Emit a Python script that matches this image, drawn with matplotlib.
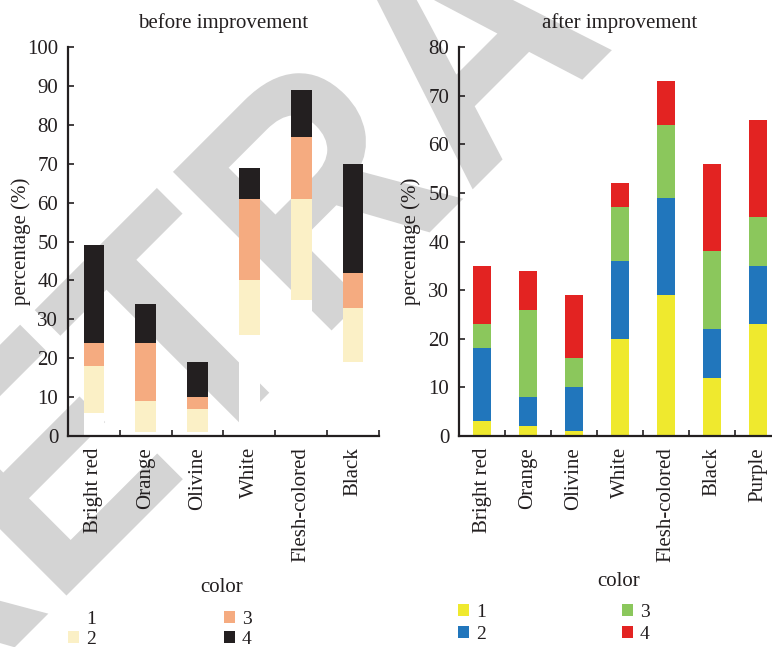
import numpy as np
import matplotlib
matplotlib.use("Agg")
import matplotlib.pyplot as plt
from matplotlib.textpath import TextPath
from matplotlib.patches import PathPatch
from matplotlib.font_manager import FontProperties
from matplotlib.transforms import Affine2D, IdentityTransform

plt.rcParams['font.family'] = ['Liberation Serif', 'DejaVu Serif']
plt.rcParams['text.color'] = '#231f20'
plt.rcParams['axes.labelcolor'] = '#231f20'
plt.rcParams['xtick.color'] = '#231f20'
plt.rcParams['ytick.color'] = '#231f20'

# color preference shares, before the improvement
categories_before = ["Bright red", "Orange", "Olivine", "White", "Flesh-colored", "Black"]
before_1 = [6, 1, 1, 26, 35, 19]
before_2 = [12, 8, 6, 14, 26, 14]
before_3 = [6, 15, 3, 21, 16, 9]
before_4 = [25, 10, 9, 8, 12, 28]

# ... and after it
categories_after = ["Bright red", "Orange", "Olivine", "White", "Flesh-colored", "Black", "Purple"]
after_1 = [3, 2, 1, 20, 29, 12, 23]
after_2 = [15, 6, 9, 16, 20, 10, 12]
after_3 = [5, 18, 6, 11, 15, 16, 10]
after_4 = [12, 8, 13, 5, 9, 18, 20]

series_labels = ["1", "2", "3", "4"]
colors_before = ["#ffffff", "#fbf0c6", "#f5ab80", "#231f20"]
colors_after = ["#efe92e", "#2176bc", "#8bc75c", "#e32322"]

ink = '#231f20'
fs = 15
DPI = 100

fig = plt.figure(figsize=(7.72, 6.47), dpi=DPI)

# gray watermark behind both panels: slightly condensed bold word,
# rotated 45 degrees, placed in pixel coordinates
wm = TextPath((0, 0), "RETRACTED", size=326,
              prop=FontProperties(family='Liberation Sans', weight='bold'))
ext = wm.get_extents()
wm_tr = (Affine2D().translate(-(ext.x0 + ext.x1) / 2, 0).scale(0.9, 1.0)
         .rotate_deg(45).translate(545, 647 - 117))
fig.add_artist(PathPatch(wm_tr.transform_path(wm), transform=IdentityTransform(),
                         facecolor='#d4d4d4', edgecolor='none', zorder=-10))

ax1 = fig.add_axes([0.0881, 0.3261, 0.4028, 0.6012])
ax2 = fig.add_axes([0.5946, 0.3261, 0.4171, 0.6012])


def stacked(ax, cats, series, colors, ymax, width):
    x = np.arange(len(cats))
    bottom = np.zeros(len(cats))
    handles = []
    for vals, col, lab in zip(series, colors, series_labels):
        b = ax.bar(x, vals, width, bottom=bottom, color=col, label=lab,
                   linewidth=0, zorder=2)
        handles.append(b)
        bottom += np.array(vals)
    ax.set_facecolor('none')
    ax.set_xlim(-0.5, len(cats) - 0.5)
    ax.set_ylim(0, ymax)
    ax.set_yticks(np.arange(0, ymax + 1, 10))
    ax.set_xticks(np.arange(len(cats)) + 0.5)
    ax.set_xticklabels([])
    ax.set_xticks(x, minor=True)
    ax.set_xticklabels(cats, minor=True, rotation=90, fontsize=fs)
    ax.tick_params(axis='x', which='major', direction='in', length=4.5, width=1.2)
    ax.tick_params(axis='x', which='minor', length=0, pad=8)
    ax.tick_params(axis='y', direction='in', length=4.5, width=1.2,
                   labelsize=fs, pad=7)
    for s in ['top', 'right']:
        ax.spines[s].set_visible(False)
    for s in ['left', 'bottom']:
        ax.spines[s].set_linewidth(1.6)
        ax.spines[s].set_color(ink)
    ax.set_ylabel("percentage (%)", fontsize=fs)
    return handles


h1 = stacked(ax1, categories_before, [before_1, before_2, before_3, before_4],
             colors_before, 100, 0.4)
h2 = stacked(ax2, categories_after, [after_1, after_2, after_3, after_4],
             colors_after, 80, 0.41)

ax1.set_title("before improvement", fontsize=fs, pad=14)
ax2.set_title("after improvement", fontsize=fs, pad=14)
ax1.yaxis.set_label_coords(-0.119, 0.5)
ax2.yaxis.set_label_coords(-0.118, 0.5)

# legends sit below the rotated category names
fig.text(222 / 772, 1 - 592 / 647, "color", ha='center', va='baseline', fontsize=fs)
fig.text(619 / 772, 1 - 586 / 647, "color", ha='center', va='baseline', fontsize=fs)

leg_kw = dict(ncol=2, frameon=False, fontsize=14, handlelength=0.57,
              handleheight=0.57, handletextpad=0.35,
              borderpad=0, borderaxespad=0, loc='upper left')
fig.legend(h1, series_labels, bbox_to_anchor=(68 / 772, 1 - 611 / 647),
           columnspacing=6.6, labelspacing=0.15, **leg_kw)
fig.legend(h2, series_labels, bbox_to_anchor=(458 / 772, 1 - 604 / 647),
           columnspacing=7.0, labelspacing=0.26, **leg_kw)

fig.savefig("out.png", dpi=DPI)
